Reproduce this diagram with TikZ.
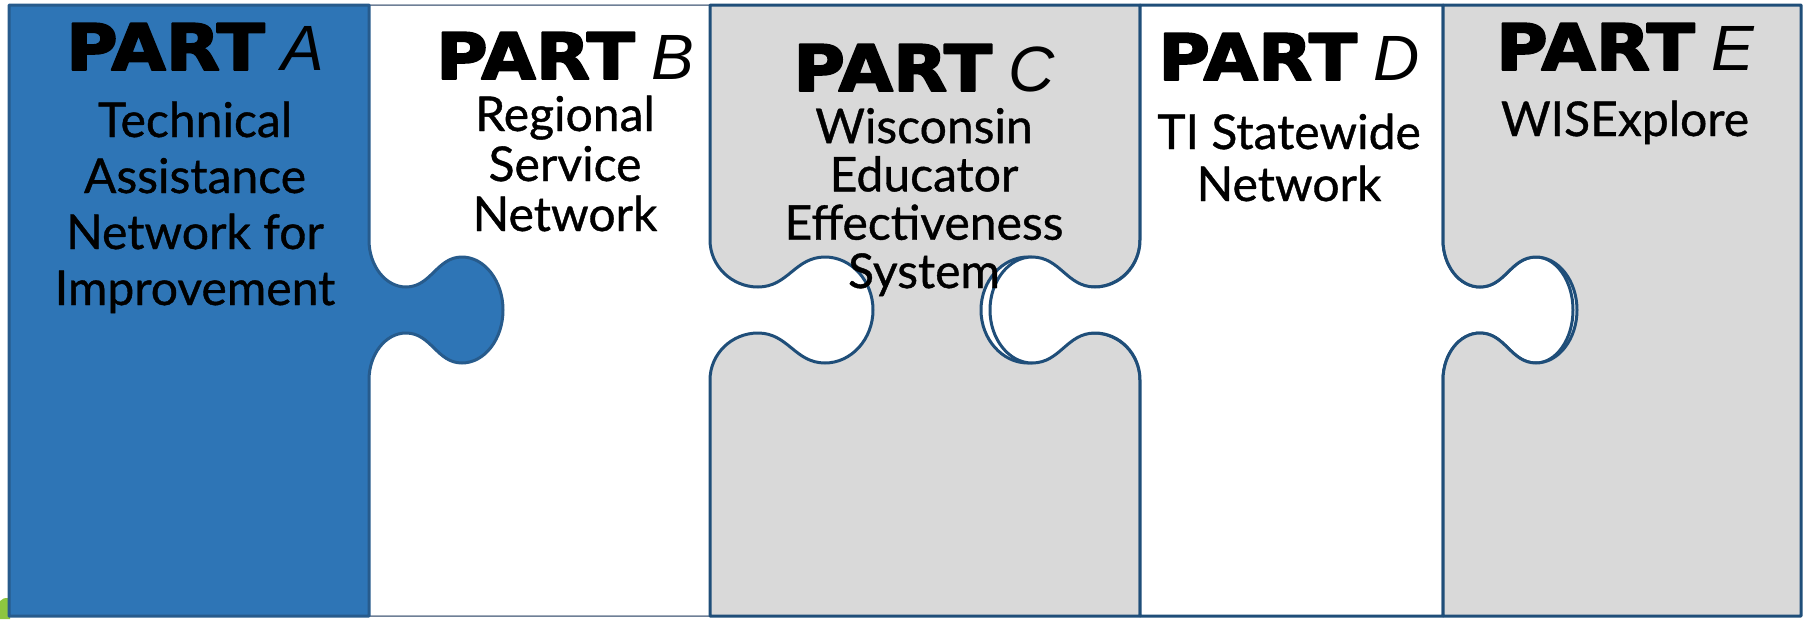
\documentclass[tikz,border=0pt]{standalone}
\usepackage{fontspec}
\setmainfont{Lato}[FakeBold=0.8]
\newfontfamily\partfont[FakeBold=3,FakeStretch=1.1]{DejaVu Sans Bold}
\newfontfamily\letterfont{Liberation Sans}

\definecolor{afill}{HTML}{2E75B6}
\definecolor{aedge}{HTML}{275B8C}
\definecolor{pedge}{HTML}{1F4E79}
\definecolor{cfill}{HTML}{D9D9D9}
\definecolor{bline}{HTML}{6E7F96}
\definecolor{leafgreen}{HTML}{8DC63F}

% one vertical edge with a knob: x of edge, side (+1 right, -1 left),
% direction (+1 down, -1 up), neck, head top, reach
\newcommand\knob[6]{%
  -- (#1,{310-(#3)*70})
  .. controls (#1,{310-(#3)*44}) and ({#1+(#2)*0.45*(#4)},{310-(#3)*23}) .. ({#1+(#2)*(#4)},{310-(#3)*23})
  .. controls ({#1+(#2)*(#4+0.45*(#5-#4))},{310-(#3)*23}) and ({#1+(#2)*(#5-0.45*(#5-#4))},{310-(#3)*53}) .. ({#1+(#2)*(#5)},{310-(#3)*53})
  .. controls ({#1+(#2)*(#5+0.55*(#6-#5))},{310-(#3)*53}) and ({#1+(#2)*(#6)},{310-(#3)*29}) .. ({#1+(#2)*(#6)},310)
  .. controls ({#1+(#2)*(#6)},{310+(#3)*29}) and ({#1+(#2)*(#5+0.55*(#6-#5))},{310+(#3)*53}) .. ({#1+(#2)*(#5)},{310+(#3)*53})
  .. controls ({#1+(#2)*(#5-0.45*(#5-#4))},{310+(#3)*53}) and ({#1+(#2)*(#4+0.45*(#5-#4))},{310+(#3)*23}) .. ({#1+(#2)*(#4)},{310+(#3)*23})
  .. controls ({#1+(#2)*0.45*(#4)},{310+(#3)*23}) and (#1,{310+(#3)*44}) .. (#1,{310+(#3)*70})
}
\newcommand\heading[1]{{\partfont PART} {\letterfont\itshape #1}}

\begin{document}
\begin{tikzpicture}[x=1pt, y=-1pt, line join=round,
    piece/.style={draw=pedge, line width=3pt},
    title/.style={anchor=base, inner sep=0pt, font=\fontsize{64}{64}\selectfont},
    body/.style={anchor=base, align=center, inner sep=0pt, font=\fontsize{48}{#1}\selectfont}]
    \useasboundingbox (0,0) rectangle (1808,619);

    % the green corner at the bottom left
    \fill[leafgreen] (0,601) .. controls (2,598) and (5,598) .. (10,598) -- (10,619) -- (0,619) -- cycle;

    % Part B, white with a thin outline
    \draw[bline, line width=1.5pt, fill=white] (369,5) -- (710,5) \knob{710}{1}{1}{48}{115}{163}
        -- (710,616) -- (369,616) \knob{369}{1}{-1}{37}{93}{134} -- cycle;

    % Part A, the blue piece
    \draw[draw=aedge, line width=3pt, fill=afill] (9,5) -- (369,5) \knob{369}{1}{1}{37}{93}{134}
        -- (369,616) -- (9,616) -- cycle;

    % Part C, holes on both sides
    \draw[piece, fill=cfill] (710,5) -- (1140,5) \knob{1140}{-1}{1}{46}{112}{159}
        -- (1140,616) -- (710,616) \knob{710}{1}{-1}{48}{115}{163} -- cycle;

    % Part D, knobs on both sides
    \draw[piece, fill=white] (1140,5) -- (1443,5) \knob{1443}{1}{1}{37}{93}{130}
        -- (1443,616) -- (1140,616) \knob{1140}{-1}{-1}{45}{108}{150} -- cycle;

    % Part E, hole on the left
    \draw[piece, fill=cfill] (1443,5) -- (1801,5) -- (1801,616) -- (1443,616)
        \knob{1443}{1}{-1}{37}{93}{134} -- cycle;

    % the labels (body nodes sit on the baseline of their last line)
    \node[title] (titleA) at (195,70) {\heading{A}};
    \node[body=56] (textA) at (195,305) {Technical\\Assistance\\Network for\\Improvement};

    \node[title] (titleB) at (565,79) {\heading{B}};
    \node[body=50] (textB) at (565,231) {Regional\\Service\\Network};

    \node[title] (titleC) at (924,91) {\heading{C}};
    \node[body=48.3] (textC) at (924,288) {Wisconsin\\Educator\\Effectiveness\\System};

    \node[title] (titleD) at (1289,80) {\heading{D}};
    \node[body=52] (textD) at (1289,201) {TI Statewide\\Network};

    \node[title] (titleE) at (1625,70) {\heading{E}};
    \node[body=52] (textE) at (1625,136) {WISExplore};
\end{tikzpicture}
\end{document}
